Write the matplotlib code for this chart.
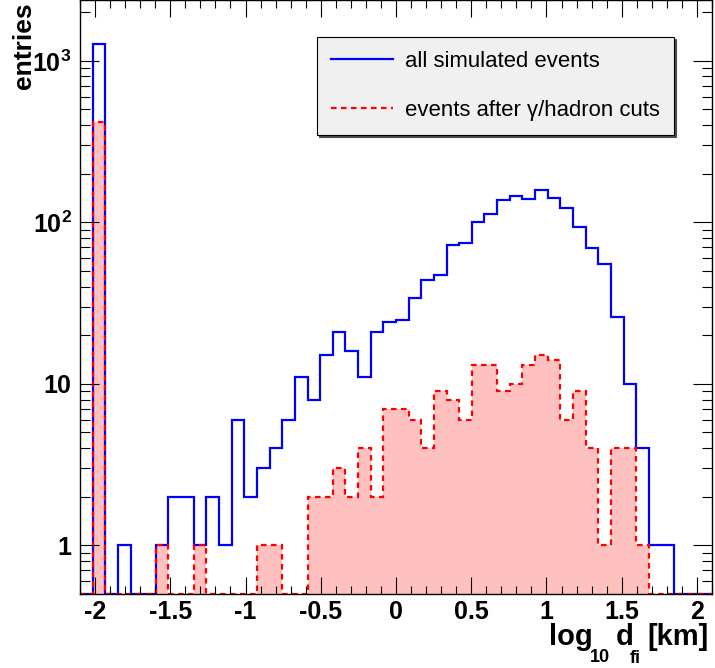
import numpy as np
import matplotlib.pyplot as plt
from matplotlib.lines import Line2D
from matplotlib.ticker import MultipleLocator, LogLocator, NullFormatter

plt.rcParams['font.family'] = ['Liberation Sans', 'DejaVu Sans']
plt.rcParams['mathtext.fontset'] = 'custom'
plt.rcParams['mathtext.rm'] = 'Liberation Sans'
plt.rcParams['mathtext.bf'] = 'Liberation Sans:bold'
plt.rcParams['mathtext.it'] = 'Liberation Sans:italic'

# histogram: 50 bins in log10(d_fi) from -2.1 to 2.1
n_bins = 50
x_lo, x_hi = -2.1, 2.1

all_events = [0, 1265, 0, 1, 0, 0, 1, 2, 2, 1,
              2, 1, 6, 2, 3, 4, 6, 11, 8, 15,
              21, 16, 11, 21, 24, 25, 34, 44, 47, 72,
              75, 100, 112, 137, 145, 139, 158, 142, 122, 94,
              69, 55, 26, 10, 4, 1, 1, 0, 0, 0]
after_cuts = [0, 420, 0, 0, 0, 0, 1, 0, 0, 1,
              0, 0, 0, 0, 1, 1, 0, 0, 2, 2,
              3, 2, 4, 2, 7, 7, 6, 4, 9, 8,
              6, 13, 13, 9, 10, 13, 15, 14, 6, 9,
              4, 1, 4, 4, 1, 0, 0, 0, 0, 0]

x_ticks = [-2, -1.5, -1, -0.5, 0, 0.5, 1, 1.5, 2]
x_tick_labels = ['-2', '-1.5', '-1', '-0.5', '0', '0.5', '1', '1.5', '2']
y_ticks = [1, 10, 100, 1000]
y_tick_labels = ['1', '10', r'$\mathbf{10^{2}}$', r'$\mathbf{10^{3}}$']

labels = ['all simulated events', 'events after \u03b3/hadron cuts']

y_lo, y_hi = 0.5, 2380

edges = np.linspace(x_lo, x_hi, n_bins + 1)
blue_vals = np.where(np.array(all_events) > 0, all_events, y_lo)
red_vals = np.where(np.array(after_cuts) > 0, after_cuts, y_lo)

W, H = 715, 668
fig = plt.figure(figsize=(W / 100, H / 100), dpi=100)
ax = fig.add_axes([80 / W, 74 / H, 632 / W, 594 / H])

dash = (0, (2.5, 2))
ax.stairs(red_vals, edges, baseline=y_lo, fill=True, color='#ffc0c0', lw=0)
ax.stairs(blue_vals, edges, baseline=None, color='blue', lw=1.6)
ax.stairs(red_vals, edges, baseline=None, color='red', lw=1.6, linestyle=dash)

ax.set_yscale('log')
ax.set_xlim(x_lo, x_hi)
ax.set_ylim(y_lo, y_hi)

ax.set_xticks(x_ticks, x_tick_labels, fontsize=18, fontweight='bold')
ax.xaxis.set_minor_locator(MultipleLocator(0.1))
ax.set_yticks(y_ticks, y_tick_labels, fontsize=18, fontweight='bold')
ax.yaxis.set_minor_locator(LogLocator(base=10, subs=np.arange(2, 10)))
ax.yaxis.set_minor_formatter(NullFormatter())

ax.tick_params(which='both', direction='in', top=True, right=True, width=0.8)
ax.tick_params(axis='x', which='major', length=12.5, pad=4)
ax.tick_params(axis='x', which='minor', length=6)
ax.tick_params(axis='y', which='major', length=13.5, pad=6)
ax.tick_params(axis='y', which='minor', length=7)
for s in ax.spines.values():
    s.set_linewidth(1.0)

handles = [Line2D([], [], color='blue', lw=1.6),
           Line2D([], [], color='red', lw=1.6, linestyle=dash)]
leg = ax.legend(handles, labels, loc='upper left', bbox_to_anchor=(0.375, 0.9377),
                borderaxespad=0, fontsize=15.9, handlelength=2.78, handletextpad=0.58,
                labelspacing=1.25, borderpad=0.64, fancybox=False,
                facecolor='#f0f0f0', edgecolor='black', framealpha=1,
                shadow={'color': '0.3', 'alpha': 1, 'ox': 1.5, 'oy': -1.5})
leg.get_frame().set_linewidth(0.8)

fig.text(24 / W, 1 - 2 / H, 'entries', rotation=90, ha='center', va='top',
         fontsize=19, fontweight='bold')

# x title built from pieces so the subscripts sit low like in ROOT
title_parts = [('log', 549, 645, 21), ('10', 590, 662, 13),
               ('d', 616, 645, 21), ('fi', 630, 663, 13), ('[km]', 647, 645, 21)]
for txt, px, py, size in title_parts:
    fig.text(px / W, 1 - py / H, txt, ha='left', va='baseline',
             fontsize=size, fontweight='bold')

fig.savefig('out.png', dpi=100)
